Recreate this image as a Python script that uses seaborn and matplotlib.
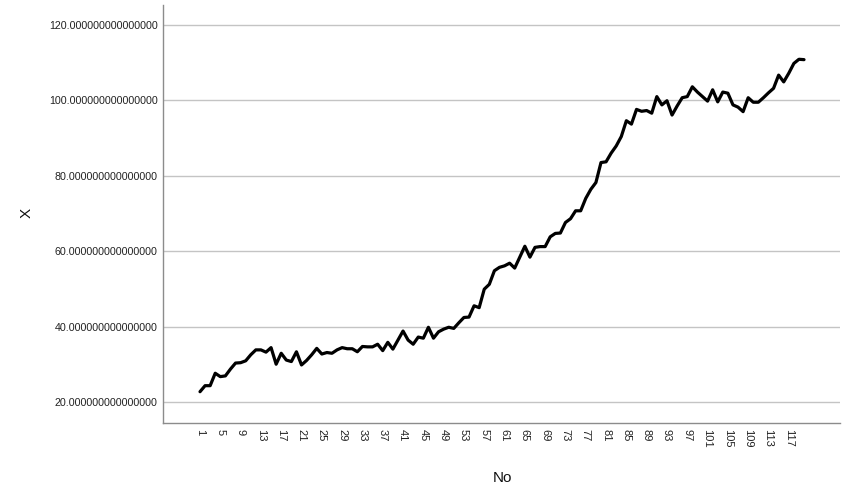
import numpy as np
import pandas as pd
import matplotlib
matplotlib.use("Agg")
import matplotlib.pyplot as plt
import seaborn as sns

no_values = list(range(1, 121))
x_values = [
    22.7, 24.3, 24.3, 27.6, 26.7, 26.9, 28.7, 30.3, 30.4, 30.9,
    32.5, 33.8, 33.8, 33.2, 34.4, 30.0, 32.9, 31.1, 30.7, 33.3,
    29.8, 31.0, 32.5, 34.2, 32.7, 33.1, 32.9, 33.8, 34.4, 34.1,
    34.1, 33.3, 34.7, 34.6, 34.6, 35.3, 33.6, 35.8, 34.0, 36.4,
    38.8, 36.4, 35.3, 37.2, 36.9, 39.8, 36.9, 38.6, 39.3, 39.8,
    39.5, 41.0, 42.4, 42.5, 45.5, 45.0, 49.9, 51.2, 54.8, 55.7,
    56.1, 56.8, 55.5, 58.4, 61.3, 58.4, 61.0, 61.2, 61.2, 63.8,
    64.7, 64.8, 67.6, 68.6, 70.7, 70.7, 74.0, 76.4, 78.2, 83.5,
    83.7, 86.0, 87.9, 90.4, 94.6, 93.7, 97.6, 97.1, 97.3, 96.6,
    101.0, 98.8, 99.9, 96.1, 98.5, 100.7, 101.0, 103.6, 102.2, 101.0,
    99.8, 102.8, 99.6, 102.2, 101.9, 98.8, 98.2, 97.0, 100.7, 99.5,
    99.5, 100.7, 102.0, 103.2, 106.7, 104.9, 107.2, 109.8, 110.9, 110.8,
]
x_tick_labels = [str(v) for v in range(1, 121, 4)]
y_tick_values = [20, 40, 60, 80, 100, 120]
y_tick_labels = ["%.15f" % v for v in y_tick_values]

df = pd.DataFrame({"No": no_values, "X": x_values})

sns.set_theme(style="white")
plt.rcParams["font.family"] = ["Liberation Sans", "DejaVu Sans"]

fig = plt.figure(figsize=(8.51, 5.01), dpi=100)
W, H = 851, 501
left, right, top, bottom = 163, 840, 5, 423
ax = fig.add_axes([left / W, 1 - bottom / H, (right - left) / W, (bottom - top) / H])

sns.lineplot(data=df, x="No", y="X", ax=ax, color="black", linewidth=2.3)

ax.set_xlim(-6.29, 127.09)
ax.set_ylim(14.4, 125.3)

ax.set_xticks([int(t) for t in x_tick_labels])
ax.set_xticklabels(x_tick_labels, rotation=-90, fontsize=8, color="#222222")
ax.set_yticks(y_tick_values)
ax.set_yticklabels(y_tick_labels, fontsize=7.7, color="#222222")
ax.tick_params(axis="both", length=0)
ax.tick_params(axis="x", pad=4.5)
ax.tick_params(axis="y", pad=3.8)

ax.yaxis.grid(True, color="#c4c4c4", linewidth=1.0)
ax.xaxis.grid(False)
ax.set_axisbelow(True)

for s in ["top", "right"]:
    ax.spines[s].set_visible(False)
for s in ["left", "bottom"]:
    ax.spines[s].set_color("#8c8c8c")
    ax.spines[s].set_linewidth(1.0)

ax.set_xlabel("No", fontsize=11, color="#111111")
ax.set_ylabel("X", fontsize=11, color="#111111")
ax.xaxis.set_label_coords((502 - left) / (right - left), (bottom - 478) / (bottom - top))
ax.yaxis.set_label_coords((27 - left) / (right - left), (bottom - 213) / (bottom - top))
ax.xaxis.label.set_va("center")
ax.yaxis.label.set_va("center")

fig.savefig("out.png", dpi=100, facecolor="white")
